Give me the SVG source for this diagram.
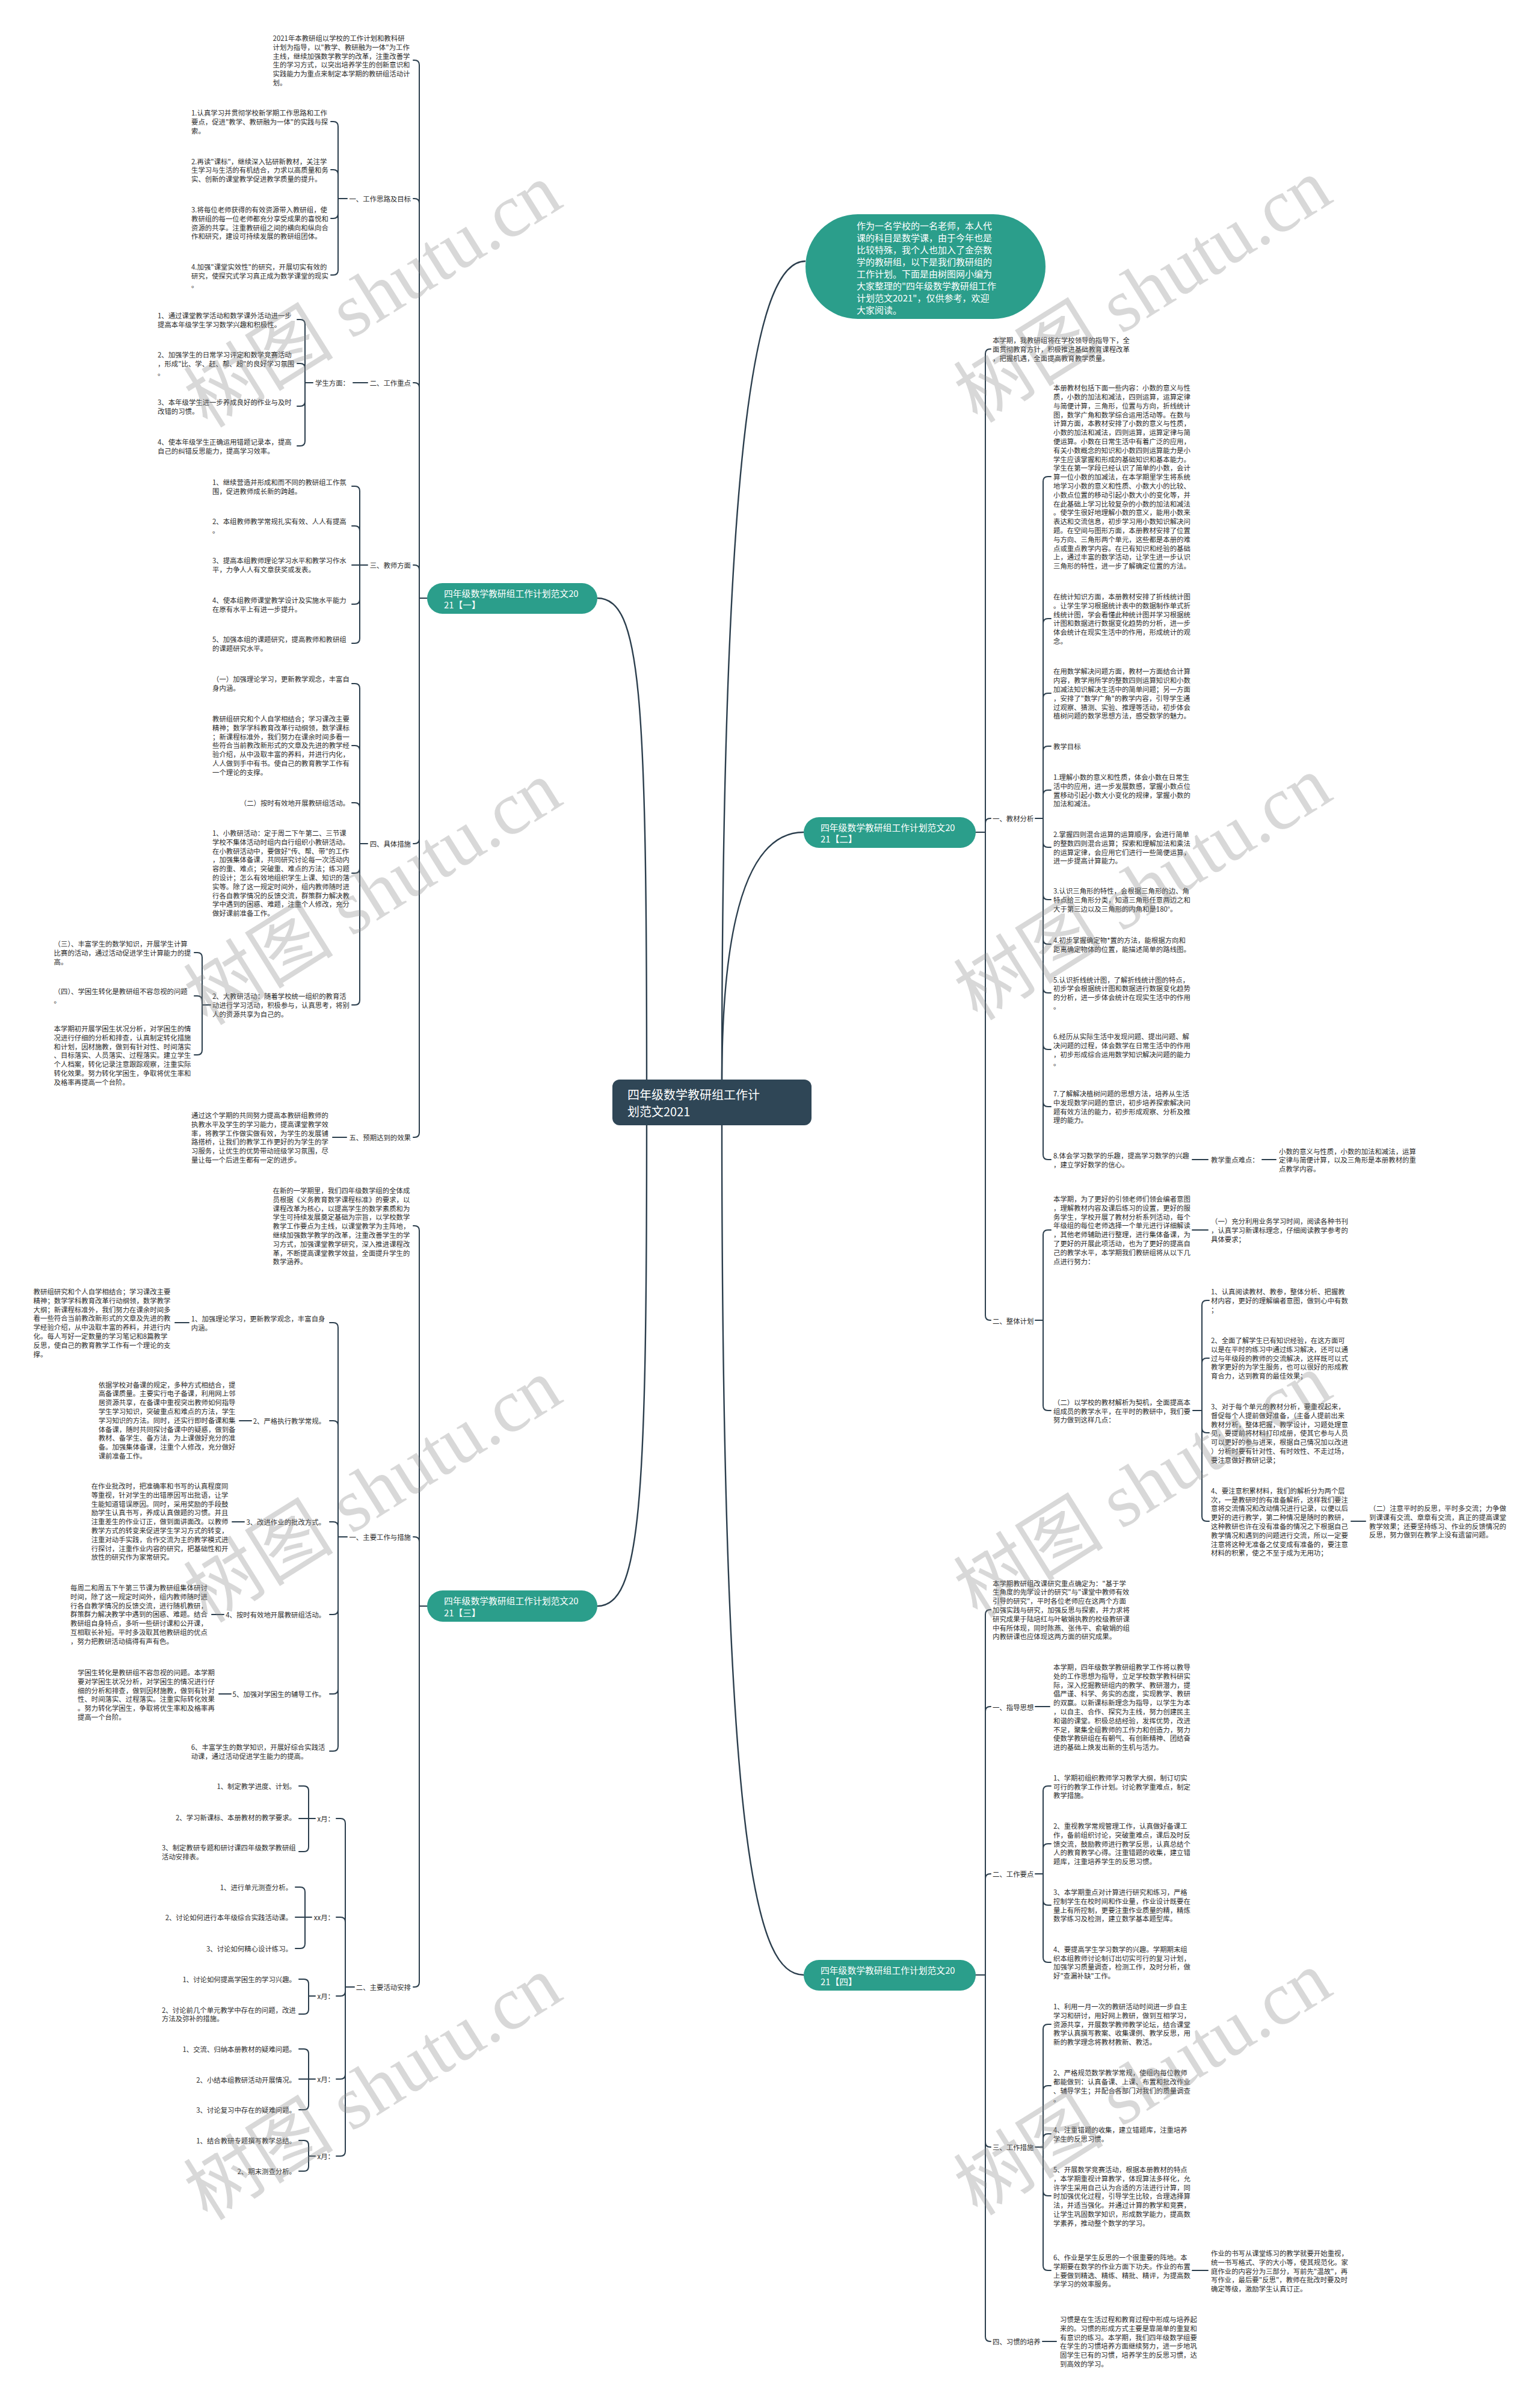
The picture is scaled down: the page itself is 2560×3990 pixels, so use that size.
<svg xmlns="http://www.w3.org/2000/svg" width="2560" height="3990" viewBox="0 0 2560 3990">
<style>
text{font-family:"Noto Sans CJK SC","Noto Sans",sans-serif;dominant-baseline:central}
.t{font-size:11.4px;fill:#2b2b2b}
.c{fill:none;stroke:#2b3e4d;stroke-width:2;stroke-linecap:round}
.m{fill:none;stroke:#2b3e4d;stroke-width:2.4}
.nb{fill:#2b9e8b}
.nt{font-size:14.8px;fill:#fff}
.pt{font-size:15px;fill:#fff}
.rt{font-size:20px;fill:#fff}
.e{text-anchor:end}
.wm{font-size:125px;fill:#8a8a8a;fill-opacity:0.33}
.wm1{font-family:"Noto Sans CJK SC",sans-serif}
.wm2{font-family:"Liberation Serif",serif}
</style>
<rect width="2560" height="3990" fill="#fff"/>

<g id="connectors">
<path class="m" d="M1075 1800C1075 1150 1065 994 993 994"/>
<path class="m" d="M1075 1866C1075 2500 1065 2669 993 2669"/>
<path class="m" d="M1200 1800C1200 700 1260 434 1339 434"/>
<path class="m" d="M1200 1800C1200 1480 1260 1383 1336 1383"/>
<path class="m" d="M1200 1866C1200 3100 1260 3282 1336 3282"/>

<path class="c" d="M710 994H697V108Q697 100 689 100H687M710 994H697V338Q697 330 689 330H687M710 994H697V644Q697 636 689 636H687M710 994H697V947Q697 939 689 939H687M710 994H697V1394Q697 1402 689 1402H687M710 994H697V1882Q697 1890 689 1890H687"/>
<path class="c" d="M577 330H562V210Q562 202 554 202H550M577 330H562V290Q562 282 554 282H550M577 330H562V355Q562 363 554 363H550M577 330H562V449Q562 457 554 457H550"/>
<path class="c" d="M611 636H587"/>
<path class="c" d="M520 636H507V539Q507 531 499 531H494M520 636H507V612Q507 604 499 604H494M520 636H507V667Q507 675 499 675H494M520 636H507V733Q507 741 499 741H494"/>
<path class="c" d="M611 939H598V816Q598 808 590 808H585M611 939H598V882Q598 874 590 874H585M611 939H585M611 939H598V996Q598 1004 590 1004H585M611 939H598V1061Q598 1069 590 1069H585"/>
<path class="c" d="M611 1402H598V1144Q598 1136 590 1136H585M611 1402H598V1247Q598 1239 590 1239H585M611 1402H598V1342Q598 1334 590 1334H585M611 1402H598V1443Q598 1451 590 1451H585M611 1402H598V1662Q598 1670 590 1670H585"/>
<path class="c" d="M350 1670H336V1591Q336 1583 328 1583H323M350 1670H336V1663Q336 1655 328 1655H323M350 1670H336V1745Q336 1753 328 1753H323"/>
<path class="c" d="M576 1890H553"/>

<path class="c" d="M710 2669H697V2045Q697 2037 689 2037H687M710 2669H697V2562Q697 2554 689 2554H687M710 2669H697V3294Q697 3302 689 3302H687"/>
<path class="c" d="M577 2554H562V2206Q562 2198 554 2198H548M577 2554H562V2369Q562 2361 554 2361H548M577 2554H562V2537Q562 2529 554 2529H548M577 2554H562V2675Q562 2683 554 2683H548M577 2554H562V2807Q562 2815 554 2815H548M577 2554H562V2902Q562 2910 554 2910H548"/>
<path class="c" d="M314 2198H291M418 2361H398M406 2529H386M372 2683H352M384 2815H364"/>
<path class="c" d="M589 3302H574V3030Q574 3022 566 3022H559M589 3302H574V3194Q574 3186 566 3186H559M589 3302H574V3309Q574 3317 566 3317H559M589 3302H574V3447Q574 3455 566 3455H559M589 3302H574V3575Q574 3583 566 3583H559"/>
<path class="c" d="M524 3022H513V2976Q513 2968 505 2968H497M524 3022H497M524 3022H513V3069Q513 3077 505 3077H497"/>
<path class="c" d="M518 3186H507V3144Q507 3136 499 3136H491M518 3186H491M518 3186H507V3230Q507 3238 499 3238H491"/>
<path class="c" d="M524 3317H513V3297Q513 3289 505 3289H497M524 3317H513V3339Q513 3347 505 3347H497"/>
<path class="c" d="M524 3455H513V3413Q513 3405 505 3405H497M524 3455H497M524 3455H513V3498Q513 3506 505 3506H497"/>
<path class="c" d="M524 3583H513V3565Q513 3557 505 3557H497M524 3583H513V3600Q513 3608 505 3608H497"/>

<path class="c" d="M1622 1383H1638V588Q1638 580 1646 580H1647M1622 1383H1638V1368Q1638 1360 1646 1360H1647M1622 1383H1638V2186Q1638 2194 1646 2194H1647"/>
<path class="c" d="M1721 1360H1734V800Q1734 792 1742 792H1747M1721 1360H1734V1036Q1734 1028 1742 1028H1747M1721 1360H1734V1160Q1734 1152 1742 1152H1747M1721 1360H1734V1248Q1734 1240 1742 1240H1747M1721 1360H1734V1321Q1734 1313 1742 1313H1747M1721 1360H1734V1400Q1734 1408 1742 1408H1747M1721 1360H1734V1487Q1734 1495 1742 1495H1747M1721 1360H1734V1561Q1734 1569 1742 1569H1747M1721 1360H1734V1642Q1734 1650 1742 1650H1747M1721 1360H1734V1736Q1734 1744 1742 1744H1747M1721 1360H1734V1831Q1734 1839 1742 1839H1747M1721 1360H1734V1919Q1734 1927 1742 1927H1747"/>
<path class="c" d="M1982 1927H2008M2098 1927H2121"/>
<path class="c" d="M1721 2194H1734V2052Q1734 2044 1742 2044H1747M1721 2194H1734V2336Q1734 2344 1742 2344H1747"/>
<path class="c" d="M1982 2044H2008"/>
<path class="c" d="M1983 2344H1998V2169Q1998 2161 2006 2161H2010M1983 2344H1998V2265Q1998 2257 2006 2257H2010M1983 2344H1998V2373Q1998 2381 2006 2381H2010M1983 2344H1998V2520Q1998 2528 2006 2528H2010"/>
<path class="c" d="M2246 2528H2270"/>

<path class="c" d="M1622 3282H1638V2683Q1638 2675 1646 2675H1647M1622 3282H1638V2844Q1638 2836 1646 2836H1647M1622 3282H1638V3122Q1638 3114 1646 3114H1647M1622 3282H1638V3560Q1638 3568 1646 3568H1647M1622 3282H1638V3883Q1638 3891 1646 3891H1647"/>
<path class="c" d="M1721 2836H1745"/>
<path class="c" d="M1721 3114H1734V2976Q1734 2968 1742 2968H1747M1721 3114H1734V3072Q1734 3064 1742 3064H1747M1721 3114H1734V3158Q1734 3166 1742 3166H1747M1721 3114H1734V3253Q1734 3261 1742 3261H1747"/>
<path class="c" d="M1721 3568H1734V3372Q1734 3364 1742 3364H1747M1721 3568H1734V3474Q1734 3466 1742 3466H1747M1721 3568H1734V3554Q1734 3546 1742 3546H1747M1721 3568H1734V3641Q1734 3649 1742 3649H1747M1721 3568H1734V3765Q1734 3773 1742 3773H1747"/>
<path class="c" d="M1982 3773H2008M1733 3891H1756"/>
</g>

<g id="root">
<rect x="1018" y="1794" width="331" height="76" rx="12" fill="#2f4656"/>
<text class="rt" x="1043" y="1818">四年级数学教研组工作计</text>
<text class="rt" x="1043" y="1846">划范文2021</text>
</g>

<g id="intro">
<rect class="nb" x="1339" y="356" width="399" height="174" rx="87"/>
<text class="pt" x="1424" y="374">作为一名学校的一名老师，本人代<tspan x="1424" dy="20">课的科目是数学课，由于今年也是</tspan><tspan x="1424" dy="20">比较特殊，我个人也加入了金奈数</tspan><tspan x="1424" dy="20">学的教研组，以下是我们教研组的</tspan><tspan x="1424" dy="20">工作计划。下面是由树图网小编为</tspan><tspan x="1424" dy="20">大家整理的"四年级数学教研组工作</tspan><tspan x="1424" dy="20">计划范文2021"，仅供参考，欢迎</tspan><tspan x="1424" dy="20">大家阅读。</tspan></text>
</g>

<g id="n1">
<rect class="nb" x="710" y="969" width="283" height="51" rx="25.5"/>
<text class="nt" x="738" y="985">四年级数学教研组工作计划范文20<tspan x="738" dy="19">21【一】</tspan></text>
<text class="t" x="453.6" y="63">2021年本教研组以学校的工作计划和教科研<tspan x="453.6" dy="14.8">计划为指导，以"教学、教研融为一体"为工作</tspan><tspan x="453.6" dy="14.8">主线，继续加强数学教学的改革，注重改善学</tspan><tspan x="453.6" dy="14.8">生的学习方式，以突出培养学生的创新意识和</tspan><tspan x="453.6" dy="14.8">实践能力为重点来制定本学期的教研组活动计</tspan><tspan x="453.6" dy="14.8">划。</tspan></text>
<text class="t e" x="683" y="330">一、工作思路及目标</text>
<text class="t" x="318" y="187">1.认真学习并贯彻学校新学期工作思路和工作<tspan x="318" dy="14.8">要点，促进"教学、教研融为一体"的实践与探</tspan><tspan x="318" dy="14.8">索。</tspan></text>
<text class="t" x="318" y="267.5">2.再读"课标"，继续深入钻研新教材，关注学<tspan x="318" dy="14.8">生学习与生活的有机结合，力求以高质量和务</tspan><tspan x="318" dy="14.8">实、创新的课堂教学促进教学质量的提升。</tspan></text>
<text class="t" x="318" y="348">3.将每位老师获得的有效资源带入教研组，使<tspan x="318" dy="14.8">教研组的每一位老师都充分享受成果的喜悦和</tspan><tspan x="318" dy="14.8">资源的共享。注重教研组之间的横向和纵向合</tspan><tspan x="318" dy="14.8">作和研究，建设可持续发展的教研组团体。</tspan></text>
<text class="t" x="318" y="443">4.加强"课堂实效性"的研究，开展切实有效的<tspan x="318" dy="14.8">研究，使探究式学习真正成为数学课堂的现实</tspan><tspan x="318" dy="14.8">。</tspan></text>
<text class="t e" x="683" y="636">二、工作重点</text>
<text class="t e" x="581" y="636">学生方面：</text>
<text class="t" x="262" y="524">1、通过课堂教学活动和数学课外活动进一步<tspan x="262" dy="14.8">提高本年级学生学习数学兴趣和积极性。</tspan></text>
<text class="t" x="262" y="589">2、加强学生的日常学习评定和数学竞赛活动<tspan x="262" dy="14.8">，形成"比、学、赶、帮、超"的良好学习氛围</tspan><tspan x="262" dy="14.8">。</tspan></text>
<text class="t" x="262" y="668">3、本年级学生进一步养成良好的作业与及时<tspan x="262" dy="14.8">改错的习惯。</tspan></text>
<text class="t" x="262" y="734">4、使本年级学生正确运用错题记录本，提高<tspan x="262" dy="14.8">自己的纠错反思能力，提高学习效率。</tspan></text>
<text class="t e" x="683" y="939">三、教师方面</text>
<text class="t" x="353" y="801">1、继续营造并形成和而不同的教研组工作氛<tspan x="353" dy="14.8">围，促进教师成长新的跨越。</tspan></text>
<text class="t" x="353" y="866">2、本组教师教学常规扎实有效、人人有提高<tspan x="353" dy="14.8">。</tspan></text>
<text class="t" x="353" y="931">3、提高本组教师理论学习水平和教学习作水<tspan x="353" dy="14.8">平，力争人人有文章获奖或发表。</tspan></text>
<text class="t" x="353" y="997">4、使本组教师课堂教学设计及实施水平能力<tspan x="353" dy="14.8">在原有水平上有进一步提升。</tspan></text>
<text class="t" x="353" y="1062">5、加强本组的课题研究，提高教师和教研组<tspan x="353" dy="14.8">的课题研究水平。</tspan></text>
<text class="t e" x="683" y="1402">四、具体措施</text>
<text class="t" x="353" y="1128">（一）加强理论学习，更新教学观念，丰富自<tspan x="353" dy="14.8">身内涵。</tspan></text>
<text class="t" x="353" y="1194">教研组研究和个人自学相结合；学习课改主要<tspan x="353" dy="14.8">精神；数学学科教育改革行动纲领，数学课标</tspan><tspan x="353" dy="14.8">；新课程标准外，我们努力在课余时间多看一</tspan><tspan x="353" dy="14.8">些符合当前教改新形式的文章及先进的教学经</tspan><tspan x="353" dy="14.8">验介绍，从中汲取丰富的养料，并进行内化，</tspan><tspan x="353" dy="14.8">人人做到手中有书。使自己的教育教学工作有</tspan><tspan x="353" dy="14.8">一个理论的支撑。</tspan></text>
<text class="t e" x="581" y="1334">（二）按时有效地开展教研组活动。</text>
<text class="t" x="353" y="1384">1、小教研活动：定于周二下午第二、三节课<tspan x="353" dy="14.8">学校不集体活动时组内自行组织小教研活动。</tspan><tspan x="353" dy="14.8">在小教研活动中，要做好"传、帮、带"的工作</tspan><tspan x="353" dy="14.8">，加强集体备课，共同研究讨论每一次活动内</tspan><tspan x="353" dy="14.8">容的重、难点；突破重、难点的方法；练习题</tspan><tspan x="353" dy="14.8">的设计；怎么有效地组织学生上课、知识的落</tspan><tspan x="353" dy="14.8">实等。除了这一规定时间外，组内教师随时进</tspan><tspan x="353" dy="14.8">行各自教学情况的反馈交流，群策群力解决教</tspan><tspan x="353" dy="14.8">学中遇到的困惑、难题，注重个人修改，充分</tspan><tspan x="353" dy="14.8">做好课前准备工作。</tspan></text>
<text class="t" x="353" y="1655">2、大教研活动：随着学校统一组织的教育活<tspan x="353" dy="14.8">动进行学习活动，积极参与，认真思考，将别</tspan><tspan x="353" dy="14.8">人的资源共享为自己的。</tspan></text>
<text class="t" x="89.6" y="1568">（三）、丰富学生的数学知识，开展学生计算<tspan x="89.6" dy="14.8">比赛的活动，通过活动促进学生计算能力的提</tspan><tspan x="89.6" dy="14.8">高。</tspan></text>
<text class="t" x="89.6" y="1647">（四）、学困生转化是教研组不容忽视的问题<tspan x="89.6" dy="14.8">。</tspan></text>
<text class="t" x="89.6" y="1709">本学期初开展学困生状况分析，对学困生的情<tspan x="89.6" dy="14.8">况进行仔细的分析和排查，认真制定转化措施</tspan><tspan x="89.6" dy="14.8">和计划，因材施教，做到有针对性、时间落实</tspan><tspan x="89.6" dy="14.8">、目标落实、人员落实、过程落实。建立学生</tspan><tspan x="89.6" dy="14.8">个人档案，转化记录注意跟踪观察，注重实际</tspan><tspan x="89.6" dy="14.8">转化效果。努力转化学困生，争取将优生率和</tspan><tspan x="89.6" dy="14.8">及格率再提高一个台阶。</tspan></text>
<text class="t e" x="683" y="1890">五、预期达到的效果</text>
<text class="t" x="318" y="1853">通过这个学期的共同努力提高本教研组教师的<tspan x="318" dy="14.8">执教水平及学生的学习能力，提高课堂教学效</tspan><tspan x="318" dy="14.8">率，将教学工作做实做有效，为学生的发展铺</tspan><tspan x="318" dy="14.8">路搭桥，让我们的教学工作更好的为学生的学</tspan><tspan x="318" dy="14.8">习服务，让优生的优势带动班级学习氛围，尽</tspan><tspan x="318" dy="14.8">量让每一个后进生都有一定的进步。</tspan></text>
</g>

<g id="n3">
<rect class="nb" x="710" y="2643" width="283" height="52" rx="26"/>
<text class="nt" x="738" y="2659.5">四年级数学教研组工作计划范文20<tspan x="738" dy="19">21【三】</tspan></text>
<text class="t" x="453.5" y="1978">在新的一学期里，我们四年级数学组的全体成<tspan x="453.5" dy="14.8">员根据《义务教育数学课程标准》的要求，以</tspan><tspan x="453.5" dy="14.8">课程改革为核心，以提高学生的数学素质和为</tspan><tspan x="453.5" dy="14.8">学生可持续发展奠定基础为宗旨，以学校数学</tspan><tspan x="453.5" dy="14.8">教学工作要点为主线，以课堂教学为主阵地，</tspan><tspan x="453.5" dy="14.8">继续加强数学教学的改革，注重改善学生的学</tspan><tspan x="453.5" dy="14.8">习方式，加强课堂教学研究，深入推进课程改</tspan><tspan x="453.5" dy="14.8">革，不断提高课堂教学效益，全面提升学生的</tspan><tspan x="453.5" dy="14.8">数学涵养。</tspan></text>
<text class="t e" x="683" y="2554">一、主要工作与措施</text>
<text class="t" x="317.7" y="2191">1、加强理论学习，更新教学观念，丰富自身<tspan x="317.7" dy="14.8">内涵。</tspan></text>
<text class="t" x="55.6" y="2146">教研组研究和个人自学相结合；学习课改主要<tspan x="55.6" dy="14.8">精神；数学学科教育改革行动纲领，数学教学</tspan><tspan x="55.6" dy="14.8">大纲；新课程标准外，我们努力在课余时间多</tspan><tspan x="55.6" dy="14.8">看一些符合当前教改新形式的文章及先进的教</tspan><tspan x="55.6" dy="14.8">学经验介绍，从中汲取丰富的养料，并进行内</tspan><tspan x="55.6" dy="14.8">化。每人写好一定数量的学习笔记和8篇教学</tspan><tspan x="55.6" dy="14.8">反思，使自己的教育教学工作有一个理论的支</tspan><tspan x="55.6" dy="14.8">撑。</tspan></text>
<text class="t e" x="541" y="2361">2、严格执行教学常规。</text>
<text class="t" x="163.7" y="2300.5">依据学校对备课的规定，多种方式相结合，提<tspan x="163.7" dy="14.8">高备课质量。主要实行电子备课，利用网上邻</tspan><tspan x="163.7" dy="14.8">居资源共享，在备课中重视突出教师如何指导</tspan><tspan x="163.7" dy="14.8">学生学习知识，突破重点和难点的方法，学生</tspan><tspan x="163.7" dy="14.8">学习知识的方法。同时，还实行即时备课和集</tspan><tspan x="163.7" dy="14.8">体备课，随时共同探讨备课中的疑惑，做到备</tspan><tspan x="163.7" dy="14.8">教材、备学生、备方法，为上课做好充分的准</tspan><tspan x="163.7" dy="14.8">备。加强集体备课，注重个人修改，充分做好</tspan><tspan x="163.7" dy="14.8">课前准备工作。</tspan></text>
<text class="t e" x="541" y="2529">3、改进作业的批改方式。</text>
<text class="t" x="151.7" y="2469">在作业批改时，把准确率和书写的认真程度同<tspan x="151.7" dy="14.8">等重视，针对学生的出错原因写出批语，让学</tspan><tspan x="151.7" dy="14.8">生能知道错误原因。同时，采用奖励的手段鼓</tspan><tspan x="151.7" dy="14.8">励学生认真书写，养成认真做题的习惯。并且</tspan><tspan x="151.7" dy="14.8">注重差生的作业订正，做到面讲面改。以教师</tspan><tspan x="151.7" dy="14.8">教学方式的转变来促进学生学习方式的转变，</tspan><tspan x="151.7" dy="14.8">注重对动手实践，合作交流为主的教学模式进</tspan><tspan x="151.7" dy="14.8">行探讨，注重作业内容的研究，把基础性和开</tspan><tspan x="151.7" dy="14.8">放性的研究作为家常研究。</tspan></text>
<text class="t e" x="541" y="2683">4、按时有效地开展教研组活动。</text>
<text class="t" x="117" y="2638">每周二和周五下午第三节课为教研组集体研讨<tspan x="117" dy="14.8">时间，除了这一规定时间外，组内教师随时进</tspan><tspan x="117" dy="14.8">行各自教学情况的反馈交流，进行随机教研，</tspan><tspan x="117" dy="14.8">群策群力解决教学中遇到的困惑、难题。结合</tspan><tspan x="117" dy="14.8">教研组自身特点，多听一些研讨课和公开课，</tspan><tspan x="117" dy="14.8">互相取长补短。平时多汲取其他教研组的优点</tspan><tspan x="117" dy="14.8">，努力把教研活动搞得有声有色。</tspan></text>
<text class="t e" x="541" y="2815">5、加强对学困生的辅导工作。</text>
<text class="t" x="129" y="2779">学困生转化是教研组不容忽视的问题。本学期<tspan x="129" dy="14.8">要对学困生状况分析，对学困生的情况进行仔</tspan><tspan x="129" dy="14.8">细的分析和排查，做到因材施教，做到有针对</tspan><tspan x="129" dy="14.8">性、时间落实、过程落实。注重实际转化效果</tspan><tspan x="129" dy="14.8">。努力转化学困生，争取将优生率和及格率再</tspan><tspan x="129" dy="14.8">提高一个台阶。</tspan></text>
<text class="t" x="317.7" y="2903">6、丰富学生的数学知识，开展好综合实践活<tspan x="317.7" dy="14.8">动课，通过活动促进学生能力的提高。</tspan></text>
<text class="t e" x="683" y="3302">二、主要活动安排</text>
<text class="t e" x="556" y="3022">x月：</text>
<text class="t e" x="556" y="3186">xx月：</text>
<text class="t e" x="556" y="3317">x月：</text>
<text class="t e" x="556" y="3455">x月：</text>
<text class="t e" x="556" y="3583">x月：</text>
<text class="t e" x="492" y="2968">1、制定教学进度、计划。</text>
<text class="t e" x="492" y="3020">2、学习新课标、本册教材的教学要求。</text>
<text class="t" x="269" y="3070">3、制定教研专题和研讨课四年级数学教研组<tspan x="269" dy="14.8">活动安排表。</tspan></text>
<text class="t e" x="486" y="3136">1、进行单元测查分析。</text>
<text class="t e" x="486" y="3186">2、讨论如何进行本年级综合实践活动课。</text>
<text class="t e" x="486" y="3238">3、讨论如何精心设计练习。</text>
<text class="t e" x="492" y="3289">1、讨论如何提高学困生的学习兴趣。</text>
<text class="t" x="269" y="3339.5">2、讨论前几个单元教学中存在的问题，改进<tspan x="269" dy="14.8">方法及弥补的措施。</tspan></text>
<text class="t e" x="492" y="3405">1、交流、归纳本册教材的疑难问题。</text>
<text class="t e" x="492" y="3455.5">2、小结本组教研活动开展情况。</text>
<text class="t e" x="492" y="3506">3、讨论复习中存在的疑难问题。</text>
<text class="t e" x="492" y="3557">1、结合教研专题撰写教学总结。</text>
<text class="t e" x="492" y="3608">2、期末测查分析。</text>
</g>

<g id="n2">
<rect class="nb" x="1336" y="1358" width="286" height="51" rx="25.5"/>
<text class="nt" x="1364" y="1374">四年级数学教研组工作计划范文20<tspan x="1364" dy="19">21【二】</tspan></text>
<text class="t" x="1650" y="565">本学期，我教研组将在学校领导的指导下，全<tspan x="1650" dy="14.8">面贯彻教育方针，积极推进基础教育课程改革</tspan><tspan x="1650" dy="14.8">，把握机遇，全面提高教育教学质量。</tspan></text>
<text class="t" x="1650" y="1360">一、教材分析</text>
<text class="t" x="1751" y="644.2">本册教材包括下面一些内容：小数的意义与性<tspan x="1751" dy="14.8">质，小数的加法和减法，四则运算，运算定律</tspan><tspan x="1751" dy="14.8">与简便计算，三角形，位置与方向，折线统计</tspan><tspan x="1751" dy="14.8">图，数学广角和数学综合运用活动等。在数与</tspan><tspan x="1751" dy="14.8">计算方面，本教材安排了小数的意义与性质，</tspan><tspan x="1751" dy="14.8">小数的加法和减法，四则运算，运算定律与简</tspan><tspan x="1751" dy="14.8">便运算。小数在日常生活中有着广泛的应用，</tspan><tspan x="1751" dy="14.8">有关小数概念的知识和小数四则运算能力是小</tspan><tspan x="1751" dy="14.8">学生应该掌握和形成的基础知识和基本能力。</tspan><tspan x="1751" dy="14.8">学生在第一学段已经认识了简单的小数，会计</tspan><tspan x="1751" dy="14.8">算一位小数的加减法，在本学期里学生将系统</tspan><tspan x="1751" dy="14.8">地学习小数的意义和性质、小数大小的比较、</tspan><tspan x="1751" dy="14.8">小数点位置的移动引起小数大小的变化等，并</tspan><tspan x="1751" dy="14.8">在此基础上学习比较复杂的小数的加法和减法</tspan><tspan x="1751" dy="14.8">。使学生很好地理解小数的意义，能用小数来</tspan><tspan x="1751" dy="14.8">表达和交流信息，初步学习用小数知识解决问</tspan><tspan x="1751" dy="14.8">题。在空间与图形方面，本册教材安排了位置</tspan><tspan x="1751" dy="14.8">与方向、三角形两个单元，这些都是本册的难</tspan><tspan x="1751" dy="14.8">点或重点教学内容。在已有知识和经验的基础</tspan><tspan x="1751" dy="14.8">上，通过丰富的数学活动，让学生进一步认识</tspan><tspan x="1751" dy="14.8">三角形的特性，进一步了解确定位置的方法。</tspan></text>
<text class="t" x="1751" y="991">在统计知识方面，本册教材安排了折线统计图<tspan x="1751" dy="14.8">。让学生学习根据统计表中的数据制作单式折</tspan><tspan x="1751" dy="14.8">线统计图，学会看懂此种统计图并学习根据统</tspan><tspan x="1751" dy="14.8">计图和数据进行数据变化趋势的分析，进一步</tspan><tspan x="1751" dy="14.8">体会统计在现实生活中的作用，形成统计的观</tspan><tspan x="1751" dy="14.8">念。</tspan></text>
<text class="t" x="1751" y="1115.4">在用数学解决问题方面，教材一方面结合计算<tspan x="1751" dy="14.8">内容，教学用所学的整数四则运算知识和小数</tspan><tspan x="1751" dy="14.8">加减法知识解决生活中的简单问题；另一方面</tspan><tspan x="1751" dy="14.8">，安排了"数学广角"的教学内容，引导学生通</tspan><tspan x="1751" dy="14.8">过观察、猜测、实验、推理等活动，初步体会</tspan><tspan x="1751" dy="14.8">植树问题的数学思想方法，感受数学的魅力。</tspan></text>
<text class="t" x="1751" y="1240">教学目标</text>
<text class="t" x="1751" y="1291">1.理解小数的意义和性质，体会小数在日常生<tspan x="1751" dy="14.8">活中的应用，进一步发展数感，掌握小数点位</tspan><tspan x="1751" dy="14.8">置移动引起小数大小变化的规律，掌握小数的</tspan><tspan x="1751" dy="14.8">加法和减法。</tspan></text>
<text class="t" x="1751" y="1386">2.掌握四则混合运算的运算顺序，会进行简单<tspan x="1751" dy="14.8">的整数四则混合运算；探索和理解加法和乘法</tspan><tspan x="1751" dy="14.8">的运算定律，会应用它们进行一些简便运算，</tspan><tspan x="1751" dy="14.8">进一步提高计算能力。</tspan></text>
<text class="t" x="1751" y="1480.4">3.认识三角形的特性，会根据三角形的边、角<tspan x="1751" dy="14.8">特点给三角形分类，知道三角形任意两边之和</tspan><tspan x="1751" dy="14.8">大于第三边以及三角形的内角和是180°。</tspan></text>
<text class="t" x="1751" y="1562">4.初步掌握确定物*置的方法，能根据方向和<tspan x="1751" dy="14.8">距离确定物体的位置，能描述简单的路线图。</tspan></text>
<text class="t" x="1751" y="1627.5">5.认识折线统计图，了解折线统计图的特点，<tspan x="1751" dy="14.8">初步学会根据统计图和数据进行数据变化趋势</tspan><tspan x="1751" dy="14.8">的分析，进一步体会统计在现实生活中的作用</tspan><tspan x="1751" dy="14.8">。</tspan></text>
<text class="t" x="1751" y="1722">6.经历从实际生活中发现问题、提出问题、解<tspan x="1751" dy="14.8">决问题的过程，体会数学在日常生活中的作用</tspan><tspan x="1751" dy="14.8">，初步形成综合运用数学知识解决问题的能力</tspan><tspan x="1751" dy="14.8">。</tspan></text>
<text class="t" x="1751" y="1817">7.了解解决植树问题的思想方法，培养从生活<tspan x="1751" dy="14.8">中发现数学问题的意识，初步培养探索解决问</tspan><tspan x="1751" dy="14.8">题有效方法的能力，初步形成观察、分析及推</tspan><tspan x="1751" dy="14.8">理的能力。</tspan></text>
<text class="t" x="1751" y="1920">8.体会学习数学的乐趣，提高学习数学的兴趣<tspan x="1751" dy="14.8">，建立学好数学的信心。</tspan></text>
<text class="t" x="2013" y="1927.4">教学重点难点：</text>
<text class="t" x="2126" y="1912.6">小数的意义与性质，小数的加法和减法，运算<tspan x="2126" dy="14.8">定律与简便计算，以及三角形是本册教材的重</tspan><tspan x="2126" dy="14.8">点教学内容。</tspan></text>
<text class="t" x="1650" y="2194.5">二、整体计划</text>
<text class="t" x="1751" y="1992">本学期，为了更好的引领老师们领会编者意图<tspan x="1751" dy="14.8">，理解教材内容及课后练习的设置，更好的服</tspan><tspan x="1751" dy="14.8">务学生，学校开展了教材分析系列活动，每个</tspan><tspan x="1751" dy="14.8">年级组的每位老师选择一个单元进行详细解读</tspan><tspan x="1751" dy="14.8">，其他老师辅助进行整理，进行集体备课，为</tspan><tspan x="1751" dy="14.8">了更好的开展此项活动，也为了更好的提高自</tspan><tspan x="1751" dy="14.8">己的教学水平，本学期我们教研组将从以下几</tspan><tspan x="1751" dy="14.8">点进行努力：</tspan></text>
<text class="t" x="2013" y="2029">（一）充分利用业务学习时间，阅读各种书刊<tspan x="2013" dy="14.8">，认真学习新课标理念，仔细阅读教学参考的</tspan><tspan x="2013" dy="14.8">具体要求；</tspan></text>
<text class="t" x="1751" y="2329.7">（二）以学校的教材解析为契机，全面提高本<tspan x="1751" dy="14.8">组成员的教学水平，在平时的教研中，我们要</tspan><tspan x="1751" dy="14.8">努力做到这样几点：</tspan></text>
<text class="t" x="2013" y="2146">1、认真阅读教材、教参，整体分析、把握教<tspan x="2013" dy="14.8">材内容，更好的理解编者意图，做到心中有数</tspan><tspan x="2013" dy="14.8">；</tspan></text>
<text class="t" x="2013" y="2227">2、全面了解学生已有知识经验，在这方面可<tspan x="2013" dy="14.8">以是在平时的练习中通过练习解决，还可以通</tspan><tspan x="2013" dy="14.8">过与年级段的教师的交流解决，这样既可以式</tspan><tspan x="2013" dy="14.8">教学更好的为学生服务，也可以很好的形成教</tspan><tspan x="2013" dy="14.8">育合力，达到教育的最佳效果；</tspan></text>
<text class="t" x="2013" y="2337">3、对于每个单元的教材分析，要重视起来，<tspan x="2013" dy="14.8">督促每个人提前做好准备，（主备人提前出来</tspan><tspan x="2013" dy="14.8">教材分析，整体把握，教学设计，习题处理意</tspan><tspan x="2013" dy="14.8">见，要提前将材料打印成册，使其它参与人员</tspan><tspan x="2013" dy="14.8">可以更好的参与进来，根据自己情况加以改进</tspan><tspan x="2013" dy="14.8">）分析时要有针对性、有时效性、不走过场，</tspan><tspan x="2013" dy="14.8">要注意做好教研记录；</tspan></text>
<text class="t" x="2013" y="2476.7">4、要注意积累材料，我们的解析分为两个层<tspan x="2013" dy="14.8">次，一是教研时的有准备解析，这样我们要注</tspan><tspan x="2013" dy="14.8">意将交流情况和改动情况进行记录，以便以后</tspan><tspan x="2013" dy="14.8">更好的进行教学，第二种情况是随时的教研，</tspan><tspan x="2013" dy="14.8">这种教研也许在没有准备的情况之下根据自己</tspan><tspan x="2013" dy="14.8">教学情况和遇到的问题进行交流，所以一定要</tspan><tspan x="2013" dy="14.8">注意将这种无准备之仗变成有准备的，要注意</tspan><tspan x="2013" dy="14.8">材料的积累，使之不至于成为无用功；</tspan></text>
<text class="t" x="2276" y="2506">（二）注意平时的反思，平时多交流；力争做<tspan x="2276" dy="14.8">到课课有交流、章章有交流，真正的提高课堂</tspan><tspan x="2276" dy="14.8">教学效果；还要坚持练习、作业的反馈情况的</tspan><tspan x="2276" dy="14.8">反思，努力做到在教学上没有遗留问题。</tspan></text>
</g>

<g id="n4">
<rect class="nb" x="1336" y="3257" width="286" height="51" rx="25.5"/>
<text class="nt" x="1364" y="3273">四年级数学教研组工作计划范文20<tspan x="1364" dy="19">21【四】</tspan></text>
<text class="t" x="1650" y="2630.5">本学期教研组改课研究重点确定为："基于学<tspan x="1650" dy="14.8">生角度的先学设计的研究"与"课堂中教师有效</tspan><tspan x="1650" dy="14.8">引导的研究"，平时各位老师应在这两个方面</tspan><tspan x="1650" dy="14.8">加强实践与研究，加强反思与探索，并力求将</tspan><tspan x="1650" dy="14.8">研究成果于陆培红与叶敏娟执教的校级教研课</tspan><tspan x="1650" dy="14.8">中有所体现，同时陈燕、张伟平、俞敏娟的组</tspan><tspan x="1650" dy="14.8">内教研课也应体现这两方面的研究成果。</tspan></text>
<text class="t" x="1650" y="2836.5">一、指导思想</text>
<text class="t" x="1751" y="2770">本学期，四年级数学教研组教学工作将以教导<tspan x="1751" dy="14.8">处的工作思想为指导，立足学校数学教科研实</tspan><tspan x="1751" dy="14.8">际，深入挖掘教研组内的教学、教研潜力，提</tspan><tspan x="1751" dy="14.8">倡严谨、科学、务实的态度，实现教学、教研</tspan><tspan x="1751" dy="14.8">的双赢。以新课标新理念为指导，以学生为本</tspan><tspan x="1751" dy="14.8">，以自主、合作、探究为主线，努力创建民主</tspan><tspan x="1751" dy="14.8">和谐的课堂。积极总结经验，发挥优势，改进</tspan><tspan x="1751" dy="14.8">不足，聚集全组教师的工作力和创造力，努力</tspan><tspan x="1751" dy="14.8">使数学教研组在有朝气、有创新精神、团结奋</tspan><tspan x="1751" dy="14.8">进的基础上焕发出新的生机与活力。</tspan></text>
<text class="t" x="1650" y="3114">二、工作要点</text>
<text class="t" x="1751" y="2953.7">1、学期初组织教师学习教学大纲，制订切实<tspan x="1751" dy="14.8">可行的教学工作计划。讨论教学重难点，制定</tspan><tspan x="1751" dy="14.8">教学措施。</tspan></text>
<text class="t" x="1751" y="3034">2、重视教学常规管理工作，认真做好备课工<tspan x="1751" dy="14.8">作，备前组织讨论，突破重难点，课后及时反</tspan><tspan x="1751" dy="14.8">馈交流，鼓励教师进行教学反思，认真总结个</tspan><tspan x="1751" dy="14.8">人的教育教学心得。注重错题的收集，建立错</tspan><tspan x="1751" dy="14.8">题库，注重培养学生的反思习惯。</tspan></text>
<text class="t" x="1751" y="3144">3、本学期重点对计算进行研究和练习，严格<tspan x="1751" dy="14.8">控制学生在校时间和作业量，作业设计既要在</tspan><tspan x="1751" dy="14.8">量上有所控制，更要注重作业质量的精，精炼</tspan><tspan x="1751" dy="14.8">数学练习及检测，建立数学基本题型库。</tspan></text>
<text class="t" x="1751" y="3238.7">4、要提高学生学习数学的兴趣。学期期末组<tspan x="1751" dy="14.8">织本组教师讨论制订出切实可行的复习计划，</tspan><tspan x="1751" dy="14.8">加强学习质量调查，检测工作，及时分析，做</tspan><tspan x="1751" dy="14.8">好"查漏补缺"工作。</tspan></text>
<text class="t" x="1650" y="3568">三、工作措施</text>
<text class="t" x="1751" y="3334">1、利用一月一次的教研活动时间进一步自主<tspan x="1751" dy="14.8">学习和研讨，用好网上教研，做到互相学习，</tspan><tspan x="1751" dy="14.8">资源共享，开展数学教师教学论坛，结合课堂</tspan><tspan x="1751" dy="14.8">教学认真撰写教案、收集课例、教学反思，用</tspan><tspan x="1751" dy="14.8">新的教学理念将教材教新、教活。</tspan></text>
<text class="t" x="1751" y="3444">2、严格规范数学教学常规，使组内每位教师<tspan x="1751" dy="14.8">都能做到：认真备课、上课、布置和批改作业</tspan><tspan x="1751" dy="14.8">、辅导学生；并配合各部门对我们的质量调查</tspan><tspan x="1751" dy="14.8">。</tspan></text>
<text class="t" x="1751" y="3539">4、注重错题的收集，建立错题库，注重培养<tspan x="1751" dy="14.8">学生的反思习惯。</tspan></text>
<text class="t" x="1751" y="3605">5、开展数学竞赛活动，根据本册教材的特点<tspan x="1751" dy="14.8">，本学期重视计算教学，体现算法多样化，允</tspan><tspan x="1751" dy="14.8">许学生采用自己认为合适的方法进行计算，同</tspan><tspan x="1751" dy="14.8">时加强优化过程，引导学生比较，合理选择算</tspan><tspan x="1751" dy="14.8">法，并适当强化。并通过计算的教学和竞赛，</tspan><tspan x="1751" dy="14.8">让学生巩固数学知识，形成数学能力，提高数</tspan><tspan x="1751" dy="14.8">学素养，推动整个数学的学习。</tspan></text>
<text class="t" x="1751" y="3751">6、作业是学生反思的一个很重要的阵地。本<tspan x="1751" dy="14.8">学期要在数学的作业方面下功夫。作业的布置</tspan><tspan x="1751" dy="14.8">上要做到精选、精练、精批、精评，为提高数</tspan><tspan x="1751" dy="14.8">学学习的效率服务。</tspan></text>
<text class="t" x="2013" y="3744">作业的书写从课堂练习的教学就要开始重视，<tspan x="2013" dy="14.8">统一书写格式、字的大小等，使其规范化。家</tspan><tspan x="2013" dy="14.8">庭作业的内容分为三部分，写前先"温故"，再</tspan><tspan x="2013" dy="14.8">写作业，最后要"反思"，教师在批改时要及时</tspan><tspan x="2013" dy="14.8">确定等级，激励学生认真订正。</tspan></text>
<text class="t" x="1650" y="3891">四、习惯的培养</text>
<text class="t" x="1762" y="3854">习惯是在生活过程和教育过程中形成与培养起<tspan x="1762" dy="14.8">来的。习惯的形成方式主要是靠简单的重复和</tspan><tspan x="1762" dy="14.8">有意识的练习。本学期，我们四年级数学组要</tspan><tspan x="1762" dy="14.8">在学生的习惯培养方面继续努力，进一步地巩</tspan><tspan x="1762" dy="14.8">固学生已有的习惯，培养学生的反思习惯，达</tspan><tspan x="1762" dy="14.8">到高效的学习。</tspan></text>
</g>

<g id="watermarks" class="wm">
<text transform="translate(345 713) rotate(-32)" style="dominant-baseline:auto"><tspan class="wm1">树图</tspan><tspan class="wm2"> shutu.cn</tspan></text>
<text transform="translate(1625 705) rotate(-32)" style="dominant-baseline:auto"><tspan class="wm1">树图</tspan><tspan class="wm2"> shutu.cn</tspan></text>
<text transform="translate(345 1706) rotate(-32)" style="dominant-baseline:auto"><tspan class="wm1">树图</tspan><tspan class="wm2"> shutu.cn</tspan></text>
<text transform="translate(1625 1698) rotate(-32)" style="dominant-baseline:auto"><tspan class="wm1">树图</tspan><tspan class="wm2"> shutu.cn</tspan></text>
<text transform="translate(345 2699) rotate(-32)" style="dominant-baseline:auto"><tspan class="wm1">树图</tspan><tspan class="wm2"> shutu.cn</tspan></text>
<text transform="translate(1625 2691) rotate(-32)" style="dominant-baseline:auto"><tspan class="wm1">树图</tspan><tspan class="wm2"> shutu.cn</tspan></text>
<text transform="translate(345 3692) rotate(-32)" style="dominant-baseline:auto"><tspan class="wm1">树图</tspan><tspan class="wm2"> shutu.cn</tspan></text>
<text transform="translate(1625 3684) rotate(-32)" style="dominant-baseline:auto"><tspan class="wm1">树图</tspan><tspan class="wm2"> shutu.cn</tspan></text>
</g>
</svg>
